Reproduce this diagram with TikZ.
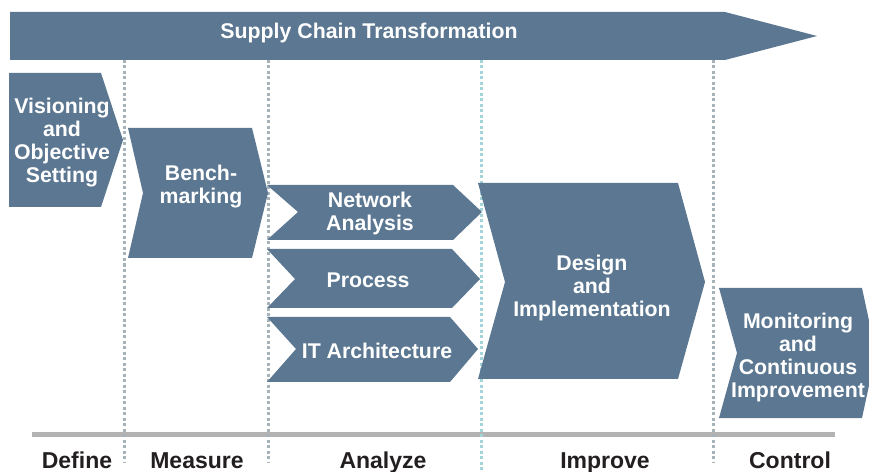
\documentclass[tikz,border=0pt]{standalone}
\usepackage{fontspec}
\setmainfont{Liberation Sans}
\definecolor{stepblue}{HTML}{5B7791}
\definecolor{dotgray}{HTML}{A6B3B9}
\definecolor{dotcyan}{HTML}{A3D4DA}
\definecolor{rulegray}{HTML}{B3B3B3}
\definecolor{phasetext}{HTML}{231F20}

\begin{document}
\begin{tikzpicture}[x=1bp, y=-1bp,
    stepshape/.style={fill=stepblue},
    steptext/.style={text=white, align=center, inner sep=0pt, font=\bfseries\fontsize{21.3bp}{23bp}\selectfont},
    phasetext/.style={text=phasetext, anchor=base, inner sep=0pt, font=\bfseries\fontsize{23bp}{25bp}\selectfont},
    phaseline/.style={draw=dotgray, line width=3bp, dash pattern=on 3bp off 2.5bp},
    phaselinecyan/.style={draw=dotcyan, line width=3bp, dash pattern=on 3bp off 2.5bp}]
    \useasboundingbox (0,0) rectangle (869,472);
    \clip (0,0) rectangle (869,472);
    \draw[rulegray, line width=5bp] (32,434) -- (835,434);
    \draw[phaseline] (124,60) -- (124,463);
    \draw[phaseline] (268,60) -- (268,463);
    \draw[phaselinecyan] (481,60) -- (481,472);
    \draw[phaseline] (713,60) -- (713,463);
    \fill[stepshape] (10,12) -- (725,12) -- (817,36) -- (725,60) -- (10,60) -- cycle;
    \fill[stepshape] (9,73) -- (101,73) -- (123,140) -- (101,207) -- (9,207) -- cycle;
    \fill[stepshape] (128,128) -- (252,128) -- (268,193) -- (252,258) -- (128,258) -- (143,193) -- cycle;
    \fill[stepshape] (267,185) -- (453,185) -- (482,212) -- (453,240) -- (267,240) -- (298,212) -- cycle;
    \fill[stepshape] (267,249) -- (452,249) -- (480,279) -- (452,308) -- (267,308) -- (295,279) -- cycle;
    \fill[stepshape] (267,317) -- (450,317) -- (478,349) -- (450,382) -- (267,382) -- (296,349) -- cycle;
    \fill[stepshape] (478,183) -- (678,183) -- (705,282) -- (678,379) -- (478,379) -- (505,282) -- cycle;
    \fill[stepshape] (719,288) -- (862,288) -- (876,353) -- (862,418) -- (719,418) -- (737,353) -- cycle;
    \node[steptext] (supply) at (369,33) {Supply Chain Transformation};
    \node[steptext] (vision) at (62,143) {Visioning\\and\\Objective\\Setting};
    \node[steptext] (bench) at (201,187) {Bench-\\marking};
    \node[steptext] (network) at (370,213) {Network\\Analysis};
    \node[steptext] (process) at (368,280) {Process};
    \node[steptext] (itarch) at (377,351) {IT Architecture};
    \node[steptext] (design) at (592,288) {Design\\and\\Implementation};
    \node[steptext] (monitor) at (798,357) {Monitoring\\and\\Continuous\\Improvement};
    \node[phasetext] (define) at (77,468) {Define};
    \node[phasetext] (measure) at (197,468) {Measure};
    \node[phasetext] (analyze) at (383,468) {Analyze};
    \node[phasetext] (improve) at (605,468) {Improve};
    \node[phasetext] (control) at (790,468) {Control};
\end{tikzpicture}
\end{document}
